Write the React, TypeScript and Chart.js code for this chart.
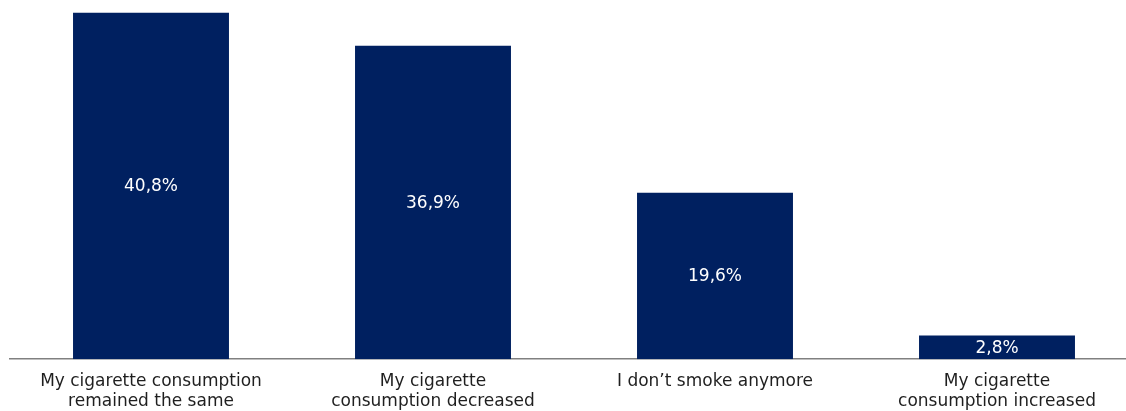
import React, { useEffect, useRef } from "react";
import { Chart, registerables } from "chart.js";

Chart.register(...registerables);

const categories: string[][] = [
  ["My cigarette consumption", "remained the same"],
  ["My cigarette", "consumption decreased"],
  ["I don\u2019t smoke anymore"],
  ["My cigarette", "consumption increased"],
];
const values: number[] = [40.8, 36.9, 19.6, 2.8];
const valueLabels: string[] = ["40,8%", "36,9%", "19,6%", "2,8%"];

const FONT = "'DejaVu Sans', Verdana, sans-serif";

const valueLabelPlugin = {
  id: "valueLabels",
  afterDatasetsDraw(chart: any) {
    const ctx = chart.ctx;
    const meta = chart.getDatasetMeta(0);
    ctx.save();
    ctx.fillStyle = "#ffffff";
    ctx.font = `17px ${FONT}`;
    ctx.textAlign = "center";
    ctx.textBaseline = "middle";
    meta.data.forEach((bar: any, i: number) => {
      const y = (bar.y + bar.base) / 2 + 1;
      ctx.fillText(valueLabels[i], bar.x, y);
    });
    ctx.restore();
  },
};

export default function App() {
  const ref = useRef<HTMLCanvasElement | null>(null);
  useEffect(() => {
    if (!ref.current) return;
    const chart = new Chart(ref.current, {
      type: "bar",
      data: {
        labels: categories,
        datasets: [
          {
            data: values,
            backgroundColor: "#002060",
            borderWidth: 0,
            barPercentage: 0.553,
            categoryPercentage: 1,
          },
        ],
      },
      options: {
        responsive: false,
        animation: false,
        events: [],
        layout: { padding: { left: 10, right: 2, top: 0, bottom: 2 } },
        plugins: {
          legend: { display: false },
          tooltip: { enabled: false },
        },
        scales: {
          x: {
            grid: { display: false, drawTicks: false },
            border: { display: true, color: "#808080", width: 1.5 },
            ticks: {
              color: "#1f1f1f",
              font: { family: FONT, size: 17, lineHeight: 1.2 },
              padding: 12,
              maxRotation: 0,
              autoSkip: false,
            },
          },
          y: {
            display: false,
            min: 0,
            max: 42.3,
          },
        },
      },
      plugins: [valueLabelPlugin],
    });
    return () => chart.destroy();
  }, []);
  return (
    <div
      style={{
        position: "fixed",
        left: 0,
        top: 0,
        width: 1126,
        height: 411,
        overflow: "hidden",
        background: "#ffffff",
      }}
    >
      <canvas ref={ref} width={1140} height={426} style={{ width: 1140, height: 426, display: "block" }} />
    </div>
  );
}
